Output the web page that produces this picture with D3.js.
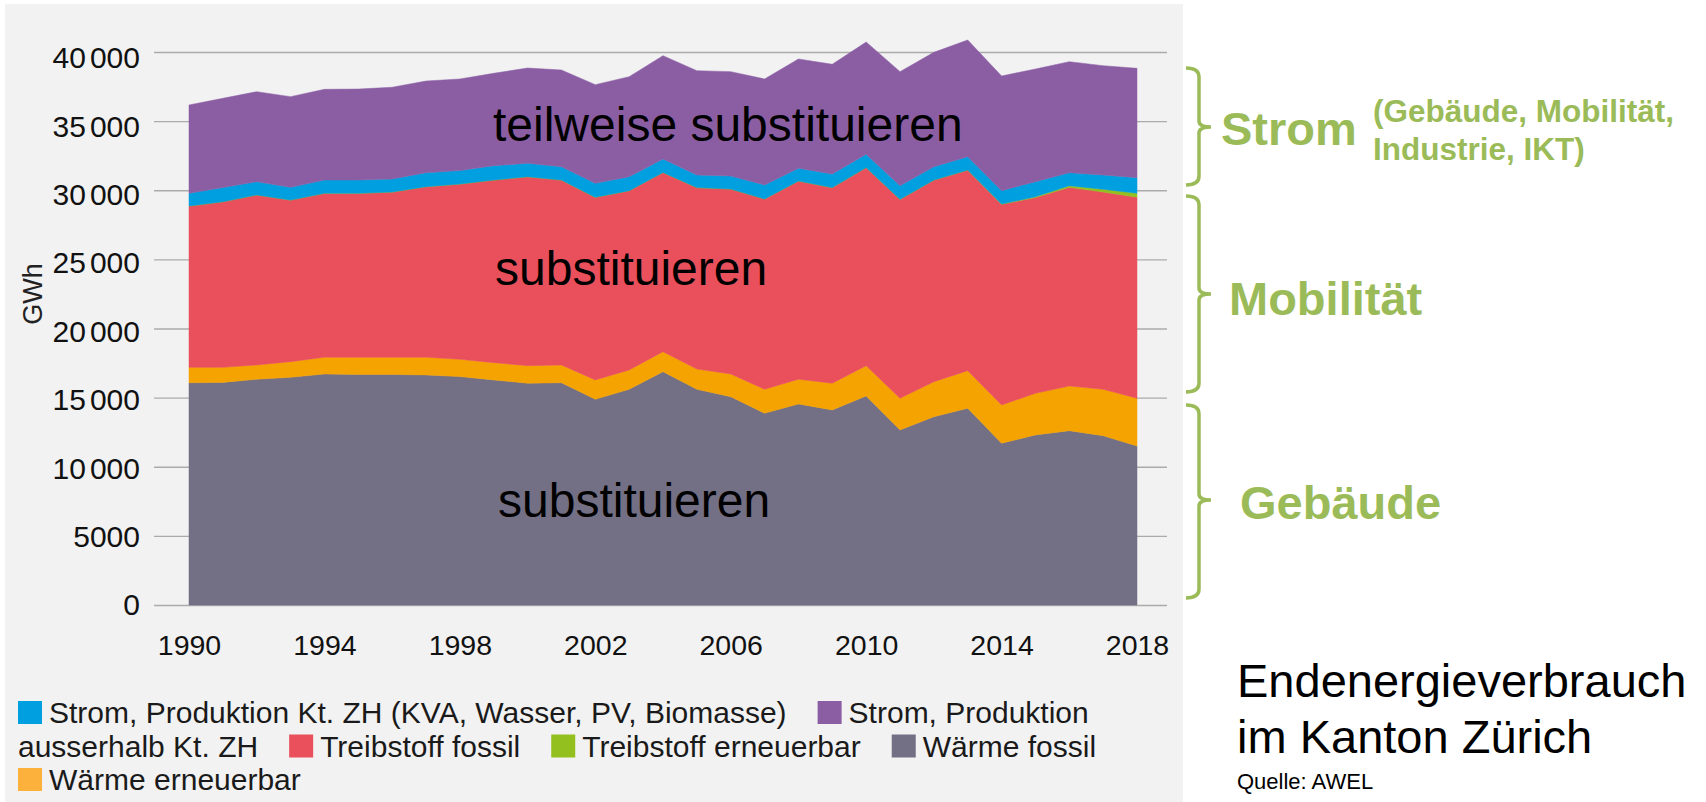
<!DOCTYPE html>
<html>
<head>
<meta charset="utf-8">
<script src="https://cdn.jsdelivr.net/npm/d3@7"></script>
<style>
body { margin: 0; background: #fff; }
svg { display: block; }
text { font-family: "Liberation Sans", Arial, sans-serif; }
</style>
</head>
<body>
<svg width="1706" height="802"></svg>
<script>
// values in GWh
var years = [1990,1991,1992,1993,1994,1995,1996,1997,1998,1999,2000,2001,2002,2003,2004,
             2005,2006,2007,2008,2009,2010,2011,2012,2013,2014,2015,2016,2017,2018];
var waermeFossil = [16080,16100,16330,16470,16710,16680,16680,16640,16520,16280,16040,16080,14880,15600,16880,
                    15600,15070,13870,14540,14110,15120,12660,13620,14230,11700,12300,12610,12250,11500];
var waermeErneuerbar = [1110,1090,1030,1130,1210,1240,1240,1280,1250,1250,1270,1280,1400,1400,1440,
                        1470,1640,1730,1790,1930,2190,2290,2530,2720,2770,3010,3230,3350,3450];
var treibstoffFossil = [11670,11980,12300,11690,11860,11860,11950,12340,12680,13210,13670,13380,13210,12970,12970,
                        13120,13380,13770,14340,14150,14330,14390,14590,14510,14510,14160,14370,14270,14550];
var treibstoffErneuerbar = [0,0,0,0,0,0,0,0,0,0,0,0,0,0,0,
                            0,0,0,0,0,0,0,0,0,20,60,120,200,280];
var stromZH = [920,1020,960,920,960,960,940,1010,970,1040,970,960,1010,1010,970,
               910,940,1010,920,985,960,990,960,970,970,1090,940,1030,1130];
var stromAusserhalb = [6390,6460,6510,6560,6560,6580,6640,6630,6630,6680,6890,7000,7140,7235,7475,
                       7550,7550,7670,7905,7935,8120,8250,8275,8440,8295,8150,8030,7910,7910];

var yTicks = [0,5000,10000,15000,20000,25000,30000,35000,40000];
var xTicks = [1990,1994,1998,2002,2006,2010,2014,2018];

// stack order bottom -> top
var keys = ["wf","we","tf","te","sz","sa"];
var colors = {wf:"#736F84", we:"#F5A300", tf:"#E9505C", te:"#93C01F", sz:"#009FE0", sa:"#8B5EA4"};
var swatch = {wf:"#736F84", we:"#FBB13C", tf:"#E9505C", te:"#93C01F", sz:"#009FE0", sa:"#8B5EA4"};

// legend order
var legendKeys = ["sz","sa","tf","te","wf","we"];
var legendLabels = ["Strom, Produktion Kt. ZH (KVA, Wasser, PV, Biomasse)",
                    "Strom, Produktion ausserhalb Kt. ZH",
                    "Treibstoff fossil","Treibstoff erneuerbar","Wärme fossil","Wärme erneuerbar"];

var rows = years.map(function(yr, i) {
  return {year: yr, wf: waermeFossil[i], we: waermeErneuerbar[i], tf: treibstoffFossil[i],
          te: treibstoffErneuerbar[i], sz: stromZH[i], sa: stromAusserhalb[i]};
});

var svg = d3.select("svg");
var green = "#9BBB59";

svg.append("rect").attr("x",5).attr("y",4).attr("width",1178).attr("height",798).attr("fill","#F2F2F2");

var x = d3.scaleLinear().domain([1990,2018]).range([189,1137]);
var y = d3.scaleLinear().domain([0,40000]).range([605,52]);
// tick labels sit on a slightly tighter scale than the grid
var yLab = d3.scaleLinear().domain([0,40000]).range([604.5,57.5]);

// grid
svg.append("g")
  .attr("transform","translate(154,0)")
  .call(d3.axisLeft(y).tickValues(yTicks).tickSize(-1013).tickFormat(""))
  .call(function(g){ g.select(".domain").remove(); })
  .selectAll("line").attr("stroke","#ABABAB").attr("stroke-width",1.3);

var stack = d3.stack().keys(keys);
var layers = stack(rows);

var area = d3.area()
  .x(function(d){ return x(d.data.year); })
  .y0(function(d){ return y(d[0]); })
  .y1(function(d){ return y(d[1]); });

svg.append("g").selectAll("path")
  .data(layers)
  .enter().append("path")
  .attr("d", area)
  .attr("fill", function(d){ return colors[d.key]; })
  .attr("stroke", function(d){ return colors[d.key]; })
  .attr("stroke-width", 0.5);

// y labels
var yl = svg.append("g").selectAll("text")
  .data(yTicks)
  .enter().append("text")
  .attr("x",140)
  .attr("y",function(d){ return yLab(d); })
  .attr("dy","0.36em")
  .attr("text-anchor","end")
  .attr("font-size",30)
  .attr("fill","#111");
yl.each(function(d){
  var t = d3.select(this);
  if (d >= 10000) {
    t.append("tspan").text(String(Math.floor(d/1000)));
    t.append("tspan").attr("dx",4).text("000");
  } else {
    t.text(String(d));
  }
});

svg.append("text")
  .attr("transform","translate(42,294) rotate(-90)")
  .attr("text-anchor","middle")
  .attr("font-size",27)
  .attr("fill","#222")
  .text("GWh");

// x axis
svg.append("g")
  .attr("transform","translate(0,605)")
  .call(d3.axisBottom(x).tickValues(xTicks).tickFormat(d3.format("d")).tickSize(0))
  .call(function(g){
    g.select(".domain").remove();
    g.selectAll("text")
      .attr("y",50).attr("dy",0)
      .attr("font-size",28.5)
      .attr("font-family","Liberation Sans, Arial, sans-serif")
      .attr("fill","#111");
  });

// labels in the areas
var inner = [
  {t:"teilweise substituieren", x:493, y:141},
  {t:"substituieren", x:495, y:285},
  {t:"substituieren", x:498, y:517}
];
svg.append("g").selectAll("text").data(inner).enter().append("text")
  .attr("x",function(d){ return d.x; })
  .attr("y",function(d){ return d.y; })
  .attr("font-size",48)
  .attr("fill","#000")
  .text(function(d){ return d.t; });

// legend, flowed like wrapped text
var lg = svg.append("g").attr("font-size",30).attr("fill","#1a1a1a");
var probe = lg.append("text").attr("x",-999).attr("y",-999);
function measure(s){ probe.text(s); return probe.node().getComputedTextLength(); }
var spaceW = measure("a b") - measure("ab");
var lx = 18, lineY = 723, lineH = 33.5, maxX = 1170;
legendKeys.forEach(function(k, i){
  var words = legendLabels[i].split(" ");
  if (lx + 31 + measure(words[0]) > maxX) { lx = 18; lineY += lineH; }
  lg.append("rect").attr("x",lx).attr("y",lineY-22).attr("width",24).attr("height",23).attr("fill",swatch[k]);
  lx += 31;
  words.forEach(function(w, j){
    var ww = measure(w);
    if (lx + ww > maxX) { lx = 18; lineY += lineH; }
    lg.append("text").attr("x",lx).attr("y",lineY).text(w);
    lx += ww + (j < words.length-1 ? spaceW : 0);
  });
  lx += 31;
});
probe.remove();

// braces and group labels on the right
var braces = [
  {top:68, bottom:185, tip:127},
  {top:196, bottom:392, tip:294},
  {top:405, bottom:598, tip:500}
];
svg.append("g").selectAll("path").data(braces).enter().append("path")
  .attr("fill","none").attr("stroke",green).attr("stroke-width",3.5)
  .attr("d",function(b){
    var p = d3.path(), bx = 1199;
    p.moveTo(1186, b.top);
    p.quadraticCurveTo(bx, b.top, bx, b.top+9);
    p.lineTo(bx, b.tip-6);
    p.quadraticCurveTo(bx, b.tip, bx+12, b.tip);
    p.moveTo(bx+12, b.tip);
    p.quadraticCurveTo(bx, b.tip, bx, b.tip+6);
    p.lineTo(bx, b.bottom-9);
    p.quadraticCurveTo(bx, b.bottom, 1186, b.bottom);
    return p.toString();
  });

var gl = svg.append("g").attr("fill",green).attr("font-weight","bold");
gl.append("text").attr("x",1221).attr("y",145).attr("font-size",47).text("Strom");
gl.append("text").attr("x",1373).attr("y",122).attr("font-size",31.5).text("(Gebäude, Mobilität,");
gl.append("text").attr("x",1373).attr("y",160).attr("font-size",31.5).text("Industrie, IKT)");
gl.append("text").attr("x",1229).attr("y",315).attr("font-size",47).text("Mobilität");
gl.append("text").attr("x",1240).attr("y",519).attr("font-size",47).text("Gebäude");

// title block
var tb = svg.append("g").attr("fill","#000");
tb.append("text").attr("x",1237).attr("y",697).attr("font-size",47).text("Endenergieverbrauch");
tb.append("text").attr("x",1237).attr("y",753).attr("font-size",47).text("im Kanton Zürich");
tb.append("text").attr("x",1237).attr("y",789).attr("font-size",22).text("Quelle: AWEL");
</script>
</body>
</html>
